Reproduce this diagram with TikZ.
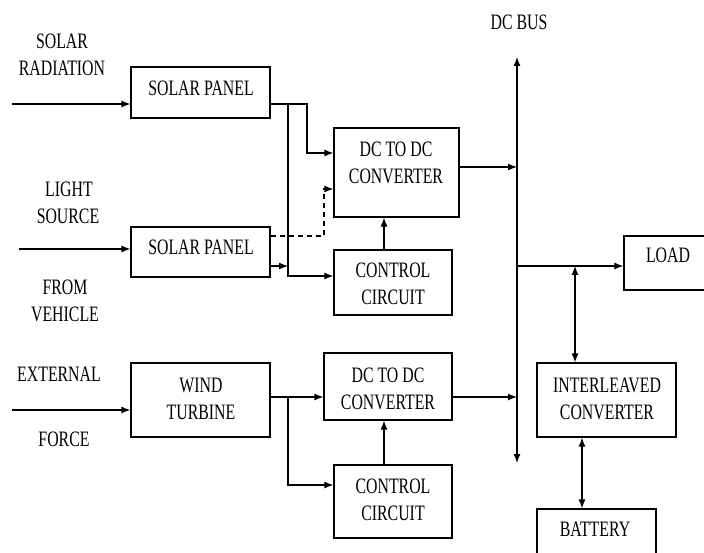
\documentclass[tikz,border=0pt]{standalone}
\usepackage{fontspec}
\usepackage{graphicx}
\setmainfont{Liberation Serif}
\newcommand{\cond}[1]{\scalebox{0.72}[1]{#1}}
\usetikzlibrary{arrows.meta}
\begin{document}
\begin{tikzpicture}[x=1pt,y=-1pt,
  every node/.style={font=\fontsize{22}{27}\selectfont},
  box/.style={draw,line width=1.2pt,rectangle,inner sep=0pt},
  lbl/.style={inner sep=0pt,align=center},
  conn/.style={line width=1.2pt},
  arr/.style={conn,-{Latex[length=9pt,width=7pt]}},
  dbl/.style={conn,{Latex[length=9pt,width=7pt]}-{Latex[length=9pt,width=7pt]}}]
\useasboundingbox (0,0) rectangle (704,553);
\clip (0,0) rectangle (704,553);
\fill[white] (0,0) rectangle (704,553);

% boxes
\node[box,minimum width=139pt,minimum height=51pt] (sp1) at (200.5,92.5) {};
\node[box,minimum width=139pt,minimum height=50pt] (sp2) at (200.5,252) {};
\node[box,minimum width=125pt,minimum height=89pt] (dc1) at (396.5,172.5) {};
\node[box,minimum width=118pt,minimum height=65pt] (cc1) at (393,282.5) {};
\node[box,minimum width=139pt,minimum height=74pt] (wt) at (200.5,400) {};
\node[box,minimum width=128pt,minimum height=67pt] (dc2) at (388,386.5) {};
\node[box,minimum width=118pt,minimum height=73pt] (cc2) at (393,501.5) {};
\node[box,minimum width=100pt,minimum height=54pt] (load) at (674,263) {};
\node[box,minimum width=139pt,minimum height=74pt] (inter) at (606.5,400) {};
\node[box,minimum width=119pt,minimum height=71pt] (bat) at (596.5,544.5) {};

% box texts
\node[lbl] (tsp1) at (201,88) {\cond{SOLAR PANEL}};
\node[lbl] (tsp2) at (201,247) {\cond{SOLAR PANEL}};
\node[lbl] (tdc1) at (396,163) {\cond{DC TO DC}\\\cond{CONVERTER}};
\node[lbl] (tcc1) at (393,284) {\cond{CONTROL}\\\cond{CIRCUIT}};
\node[lbl] (tload) at (668,255) {\cond{LOAD}};
\node[lbl] (twt) at (201,399) {\cond{WIND}\\\cond{TURBINE}};
\node[lbl] (tdc2) at (388,389) {\cond{DC TO DC}\\\cond{CONVERTER}};
\node[lbl] (tcc2) at (393,500) {\cond{CONTROL}\\\cond{CIRCUIT}};
\node[lbl] (tinter) at (607,399) {\cond{INTERLEAVED}\\\cond{CONVERTER}};
\node[lbl] (tbat) at (595,529) {\cond{BATTERY}};
\node[lbl] (tbus) at (519,22) {\cond{DC BUS}};

% side labels
\node[lbl] (l1) at (62,41) {\cond{SOLAR}};
\node[lbl] (l2) at (62,68) {\cond{RADIATION}};
\node[lbl] (l3) at (69,189) {\cond{LIGHT}};
\node[lbl] (l4) at (68,216) {\cond{SOURCE}};
\node[lbl] (l5) at (65,287) {\cond{FROM}};
\node[lbl] (l6) at (65,314) {\cond{VEHICLE}};
\node[lbl] (l7) at (59,374) {\cond{EXTERNAL}};
\node[lbl] (l8) at (64,439) {\cond{FORCE}};

% coordinates
\coordinate (in1) at (12,104);
\coordinate (in2) at (19,249);
\coordinate (in3) at (12,410);
\coordinate (a1) at (307,153);
\coordinate (j1) at (288,104);
\coordinate (j2) at (288,266);
\coordinate (b1) at (288,276);
\coordinate (d1) at (324,236);
\coordinate (d2) at (324,189);
\coordinate (c1) at (384,250);
\coordinate (bt) at (517,57);
\coordinate (bb) at (517,463);
\coordinate (o1) at (517,167);
\coordinate (o2) at (517,397);
\coordinate (o3) at (517,266);
\coordinate (q1) at (575,266);
\coordinate (q2) at (582,437);
\coordinate (w1) at (288,397);
\coordinate (w2) at (288,485);

% inputs
\draw[arr] (in1) -- (sp1.west |- in1);
\draw[arr] (in2) -- (sp2.west |- in2);
\draw[arr] (in3) -- (wt.west |- in3);

% solar panel 1
\draw[arr] (sp1.east |- in1) -| (a1) -- (dc1.west |- a1);
\draw[arr] (j1) -- (b1) -- (cc1.west |- b1);
% solar panel 2
\draw[arr] (sp2.east |- j2) -- (j2);
\draw[arr,dashed,dash pattern=on 5pt off 4pt] (sp2.east |- d1) -- (d1) -- (d2) -- (dc1.west |- d2);
% control 1
\draw[arr] (cc1.north -| c1) -- (dc1.south -| c1);
% dc bus
\draw[dbl] (bt) -- (bb);
\draw[arr] (dc1.east |- o1) -- (o1);
\draw[arr] (o3) -- (load.west |- o3);
\draw[dbl] (q1) -- (inter.north -| q1);
\draw[dbl] (inter.south -| q2) -- (bat.north -| q2);
% wind
\draw[arr] (wt.east |- w1) -- (dc2.west |- w1);
\draw[arr] (w1) -- (w2) -- (cc2.west |- w2);
\draw[arr] (cc2.north -| c1) -- (dc2.south -| c1);
\draw[arr] (dc2.east |- o2) -- (o2);
\end{tikzpicture}
\end{document}
